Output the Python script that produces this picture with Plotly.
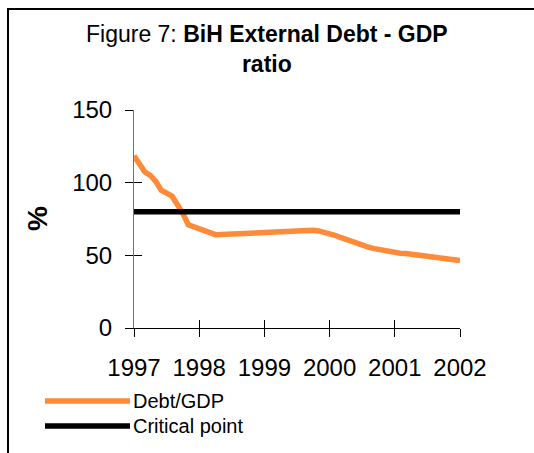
import plotly.graph_objects as go

# Monthly external debt / GDP ratio (%), Jan 1997 - Jan 2002
YEAR_LABELS = ["1997", "1998", "1999", "2000", "2001", "2002"]
MONTHS_PER_YEAR = 12
DEBT_GDP = [
    118.5, 112.9, 107.3, 105.0, 100.9, 94.9, 93.0, 90.7, 84.8, 78.8,
    71.0, 69.5, 68.0, 66.8, 64.8, 64.2, 64.3, 64.5, 64.8, 65.0,
    65.2, 65.5, 65.8, 66.0, 66.3, 66.2, 66.4, 66.5, 66.6, 66.7,
    66.8, 67.0, 67.2, 67.3, 66.8, 66.0, 65.0, 63.8, 62.3, 60.8,
    59.5, 58.2, 57.0, 55.8, 54.8, 54.0, 53.3, 52.6, 52.0, 51.5,
    51.2, 50.8, 50.4, 50.0, 49.5, 49.0, 48.5, 48.0, 47.5, 47.0, 46.5,
]
CRITICAL_POINT = 80
Y_TICKS = [0, 50, 100, 150]
SERIES_NAMES = ["Debt/GDP", "Critical point"]

ORANGE = "#FF8A3A"
FONT = "Liberation Sans, Arial, sans-serif"

months = list(range(len(DEBT_GDP)))
year_ticks = [i * MONTHS_PER_YEAR for i in range(len(YEAR_LABELS))]
critical = [CRITICAL_POINT] * len(months)

W, H = 534, 453
L, R, T, B = 134, 74, 110, 125
PW, PH = W - L - R, H - T - B


def px_x(px):
    return (px - L) / PW


def px_y(py):
    return (H - B - py) / PH


fig = go.Figure()
fig.add_trace(go.Scatter(x=months, y=DEBT_GDP, mode="lines", name=SERIES_NAMES[0],
                         line=dict(color=ORANGE, width=5.5), showlegend=False))
fig.add_trace(go.Scatter(x=months, y=critical, mode="lines", name=SERIES_NAMES[1],
                         line=dict(color="black", width=5.5), showlegend=False,
                         xaxis="x2", yaxis="y2"))

common_x = dict(range=[0, months[-1]], tickvals=year_ticks, showgrid=False, zeroline=False)
common_y = dict(range=[0, 150], tickvals=Y_TICKS, showgrid=False, zeroline=False)

fig.update_layout(
    width=W, height=H,
    margin=dict(l=L, r=R, t=T, b=B),
    paper_bgcolor="white", plot_bgcolor="white",
    font=dict(family=FONT, color="black"),
    xaxis=dict(**common_x, ticktext=YEAR_LABELS, ticks="outside", ticklen=8,
               tickcolor="black", showline=True, linecolor="black", linewidth=1,
               tickfont=dict(size=24), ticklabelstandoff=10),
    xaxis2=dict(**common_x, overlaying="x", anchor="y2", ticks="inside", ticklen=8,
                tickcolor="black", showticklabels=False, showline=False),
    yaxis=dict(**common_y, ticks="outside", ticklen=8, tickcolor="black",
               showline=True, linecolor="#707070", linewidth=1,
               tickfont=dict(size=24), ticklabelstandoff=8),
    yaxis2=dict(**common_y, overlaying="y", anchor="x2", ticks="inside", ticklen=8,
                tickcolor="black", showticklabels=False, showline=False),
)

# Title
fig.add_annotation(text="Figure 7: <b>BiH External Debt - GDP<br>ratio</b>",
                   xref="paper", yref="paper", x=px_x(267), y=px_y(19),
                   xanchor="center", yanchor="top", showarrow=False,
                   font=dict(size=23, family=FONT))

# Y-axis title
fig.add_annotation(text="<b>%</b>", xref="paper", yref="paper",
                   x=px_x(37), y=0.5, xanchor="center", yanchor="middle",
                   showarrow=False, textangle=-90,
                   font=dict(size=28, family=FONT))

# Outer frame
fig.add_shape(type="rect", xref="paper", yref="paper",
              x0=px_x(8), x1=px_x(560), y0=px_y(9), y1=px_y(480),
              line=dict(color="black", width=2), layer="below")

# Legend keys and labels
legend_rows = [(px_y(401), ORANGE), (px_y(426), "black")]
for (ly, color), name in zip(legend_rows, SERIES_NAMES):
    fig.add_shape(type="line", xref="paper", yref="paper",
                  x0=px_x(45), x1=px_x(130), y0=ly, y1=ly,
                  line=dict(color=color, width=5.5))
    fig.add_annotation(text=name, xref="paper", yref="paper",
                       x=px_x(131), y=ly, xanchor="left", yanchor="middle",
                       showarrow=False, font=dict(size=20, family=FONT))

fig.write_html("out.html")
